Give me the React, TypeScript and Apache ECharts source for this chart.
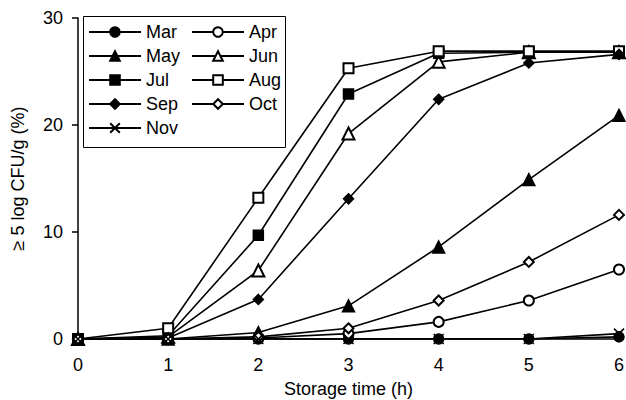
import React, { useEffect, useRef } from "react";
import * as echarts from "echarts";

const hours = ["0", "1", "2", "3", "4", "5", "6"];
const yTicks = [0, 10, 20, 30];

const mar = [0, 0, 0, 0, 0, 0, 0.2];
const apr = [0, 0, 0.1, 0.5, 1.6, 3.6, 6.5];
const may = [0, 0, 0.6, 3.1, 8.6, 14.9, 20.9];
const jun = [0, 0.2, 6.4, 19.2, 25.9, 26.8, 26.8];
const jul = [0, 0.3, 9.7, 22.9, 26.7, 26.8, 26.8];
const aug = [0, 1.0, 13.2, 25.3, 26.9, 26.9, 26.9];
const sep = [0, 0.1, 3.7, 13.1, 22.4, 25.8, 26.6];
const oct = [0, 0, 0.2, 1.0, 3.6, 7.2, 11.6];
const nov = [0, 0, 0, 0, 0, 0, 0.5];

const CROSS = "path://M0,0L10,10M10,0L0,10";

const seriesDefs = [
  { name: "Mar", data: mar, symbol: "circle" },
  { name: "Apr", data: apr, symbol: "emptyCircle" },
  { name: "May", data: may, symbol: "triangle" },
  { name: "Jun", data: jun, symbol: "emptyTriangle" },
  { name: "Jul", data: jul, symbol: "rect" },
  { name: "Aug", data: aug, symbol: "emptyRect" },
  { name: "Sep", data: sep, symbol: "diamond" },
  { name: "Oct", data: oct, symbol: "emptyDiamond" },
  { name: "Nov", data: nov, symbol: CROSS },
];

const FONT = "Liberation Sans, Arial, sans-serif";

export default function App() {
  const ref = useRef<HTMLDivElement>(null);
  useEffect(() => {
    if (!ref.current) return;
    const chart = echarts.init(ref.current, undefined, { renderer: "svg" });
    const legendText = { color: "#000", fontSize: 18, fontFamily: FONT };
    const legendCommon = {
      orient: "vertical" as const,
      top: 23,
      itemWidth: 52,
      itemHeight: 12,
      itemGap: 6,
      padding: 0,
      textStyle: legendText,
      inactiveColor: "#000",
      selectedMode: false,
    };
    chart.setOption({
      animation: false,
      backgroundColor: "#fff",
      grid: { left: 78, right: 7, top: 18, bottom: 61, containLabel: false, outerBoundsMode: "none" },
      legend: [
        { ...legendCommon, left: 88, data: ["Mar", "May", "Jul", "Sep", "Nov"] },
        { ...legendCommon, left: 191, data: ["Apr", "Jun", "Aug", "Oct"] },
      ],
      graphic: [
        {
          type: "rect",
          shape: { x: 83.5, y: 16.5, width: 202, height: 131 },
          style: { fill: "none", stroke: "#000", lineWidth: 1 },
          z: 100,
        },
      ],
      xAxis: {
        type: "category",
        data: hours,
        boundaryGap: false,
        name: "Storage time (h)",
        nameLocation: "middle",
        nameGap: 41,
        nameTextStyle: { color: "#000", fontSize: 18, fontFamily: FONT },
        axisLine: { show: true, lineStyle: { color: "#000", width: 1.5 } },
        axisTick: { show: false },
        axisLabel: { color: "#000", fontSize: 18, fontFamily: FONT, margin: 17 },
        splitLine: { show: false },
      },
      yAxis: {
        type: "value",
        min: yTicks[0],
        max: yTicks[yTicks.length - 1],
        interval: 10,
        name: "\u2265 5 log CFU/g (%)",
        nameLocation: "middle",
        nameGap: 51,
        nameRotate: 90,
        nameTextStyle: { color: "#000", fontSize: 18, fontFamily: FONT },
        axisLine: { show: true, lineStyle: { color: "#000", width: 1.5 } },
        axisTick: { show: true, length: 6, lineStyle: { color: "#000", width: 1.5 } },
        axisLabel: { color: "#000", fontSize: 18, fontFamily: FONT, margin: 15 },
        splitLine: { show: false },
      },
      series: seriesDefs.map((s) => ({
        name: s.name,
        type: "line",
        data: s.data,
        symbol: s.symbol,
        symbolSize: s.symbol === "triangle" || s.symbol === "emptyTriangle" ? 12 : 10,
        showAllSymbol: true,
        color: "#000",
        lineStyle: { color: "#000", width: 1.6 },
        itemStyle: { color: "#000", borderColor: "#000", borderWidth: 1.5 },
        emphasis: { disabled: true },
      })),
    });
    return () => chart.dispose();
  }, []);
  return <div ref={ref} style={{ width: 626, height: 400, position: "absolute", left: 0, top: 0 }} />;
}
